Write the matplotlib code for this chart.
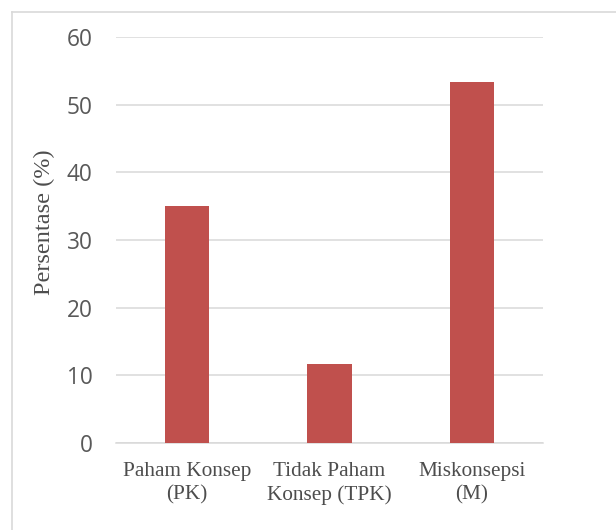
import matplotlib
matplotlib.use("Agg")
import matplotlib.pyplot as plt
from matplotlib.lines import Line2D

categories = ["Paham Konsep\n(PK)", "Tidak Paham\nKonsep (TPK)", "Miskonsepsi\n(M)"]
values = [35.0, 11.7, 53.3]
yticks = [0, 10, 20, 30, 40, 50, 60]

W, H = 616, 530
fig = plt.figure(figsize=(W / 100, H / 100), dpi=100)
ax = fig.add_axes([116 / W, 1 - 443 / H, (543 - 116) / W, (443 - 37) / H])

x = range(len(categories))
ax.bar(x, values, width=0.31, color="#C0504D", zorder=3)
ax.set_xlim(-0.5, len(categories) - 0.5)
ax.set_ylim(0, 60)
ax.set_yticks(yticks)
ax.set_xticks(list(x))
ax.set_xticklabels(categories, family="Liberation Serif", fontsize=15.3,
                   color="#4d4d4d", linespacing=1.25)
for lab in ax.get_yticklabels():
    lab.set_family("Open Sans")
    lab.set_fontsize(16.3)
    lab.set_color("#595959")
ax.tick_params(axis="y", length=0, pad=17)
ax.tick_params(axis="x", length=0, pad=14)
ax.grid(axis="y", color="#D9D9D9", linewidth=1.1, zorder=0)
for s in ["left", "right", "top"]:
    ax.spines[s].set_visible(False)
ax.spines["bottom"].set_color("#D9D9D9")
ax.spines["bottom"].set_linewidth(1.1)
ax.set_ylabel("Persentase (%)", family="Liberation Serif", fontsize=17.5,
              color="#4d4d4d")
ax.yaxis.set_label_coords(-0.143, 0.544)

# chart area border
bx, by = 12 / W, 1 - 12 / H
fig.add_artist(Line2D([bx, bx], [0, by], transform=fig.transFigure, color="#D9D9D9", lw=1.2))
fig.add_artist(Line2D([bx, 1], [by, by], transform=fig.transFigure, color="#D9D9D9", lw=1.2))

fig.savefig("out.png", dpi=100)
